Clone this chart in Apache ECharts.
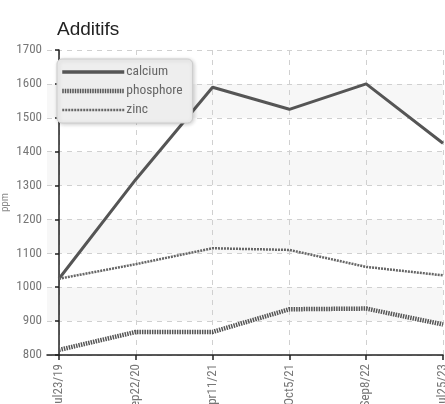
<!DOCTYPE html>
<html><head><meta charset="utf-8">
<script src="https://cdn.jsdelivr.net/npm/echarts@6/dist/echarts.min.js"></script>
<style>html,body{margin:0;padding:0;background:#fff}#c{width:445px;height:404px}</style>
</head><body><div id="c"></div>
<script>
var categories = ['Jul23/19','Sep22/20','Apr11/21','Oct5/21','Sep8/22','Jul25/23'];
var calcium = [1025, 1318, 1590, 1525, 1600, 1425];
var phosphore = [815, 868, 868, 935, 937, 890];
var zinc = [1025, 1068, 1115, 1110, 1060, 1035];
var yTicks = [800, 900, 1000, 1100, 1200, 1300, 1400, 1500, 1600, 1700];

var narrow = "'Liberation Sans Narrow','Roboto Condensed','DejaVu Sans Condensed',sans-serif";
function pts(arr){ return arr.map(function(v,i){ return [i, v]; }); }
var idx = categories.map(function(c,i){ return i; });

var chart = echarts.init(document.getElementById('c'));
chart.setOption({
  animation: false,
  title: { text: 'Additifs', left: 52, top: 15, textStyle: { fontSize: 19, fontWeight: 'normal', color: '#222', fontFamily: "'Liberation Sans',Roboto,sans-serif" } },
  grid: { left: 47, right: 2, top: 50, bottom: 49, containLabel: false, outerBoundsMode: 'none' },
  legend: {
    orient: 'vertical', left: 57, top: 59,
    padding: [6, 10, 6, 3], itemGap: 5, itemWidth: 62, itemHeight: 12,
    backgroundColor: '#eeeeee', borderColor: '#cccccc', borderWidth: 1, borderRadius: 5,
    shadowColor: 'rgba(0,0,0,0.2)', shadowBlur: 4, shadowOffsetX: 1, shadowOffsetY: 1,
    itemStyle: { opacity: 0 },
    textStyle: { color: '#666', fontSize: 13.5, fontFamily: narrow, padding: [0,0,0,-3] },
    data: [
      { name: 'calcium', lineStyle: { width: 3.5, color: '#555', type: 'solid' } },
      { name: 'phosphore', lineStyle: { width: 4.5, color: '#555', type: [1.5, 1] } },
      { name: 'zinc', lineStyle: { width: 2.5, color: '#666', type: [2, 1] } }
    ]
  },
  xAxis: {
    type: 'value', min: -0.156, max: 5,
    axisLine: { lineStyle: { color: '#222', width: 1.5 } },
    axisTick: { show: true, customValues: idx, length: 5, lineStyle: { color: '#222', width: 1.5 } },
    axisLabel: { customValues: idx, rotate: 90, color: '#777', fontSize: 13, fontFamily: narrow, margin: 9,
      formatter: function(v){ return categories[Math.round(v)] || ''; } },
    splitLine: { show: true, lineStyle: { color: '#d0d0d0', type: [5, 5] } }
  },
  yAxis: {
    type: 'value', min: 800, max: 1700, interval: 100,
    name: 'ppm', nameLocation: 'middle', nameGap: 36, nameMoveOverlap: false,
    nameTextStyle: { color: '#888', fontSize: 11, fontFamily: narrow },
    axisLine: { show: true, lineStyle: { color: '#222', width: 1.5 } },
    axisTick: { show: true, length: 4, lineStyle: { color: '#222', width: 1.5 } },
    axisLabel: { color: '#777', fontSize: 13, fontFamily: narrow, margin: 5,
      formatter: function(v){ return yTicks.indexOf(v) >= 0 ? String(v) : ''; } },
    splitLine: { show: true, lineStyle: { color: '#d0d0d0', type: [5, 5] } },
    splitArea: { show: true, areaStyle: { color: ['rgba(255,255,255,0)', '#f7f7f7'] } }
  },
  series: [
    { name: 'calcium', type: 'line', data: pts(calcium), symbol: 'none', color: '#555',
      lineStyle: { color: '#555', width: 3 } },
    { name: 'phosphore', type: 'line', data: pts(phosphore), symbol: 'none', color: '#555',
      lineStyle: { color: '#555', width: 4.5, type: [1.5, 1] } },
    { name: 'zinc', type: 'line', data: pts(zinc), symbol: 'none', color: '#555',
      lineStyle: { color: '#666', width: 2.5, type: [2, 1] } }
  ]
});
</script></body></html>
